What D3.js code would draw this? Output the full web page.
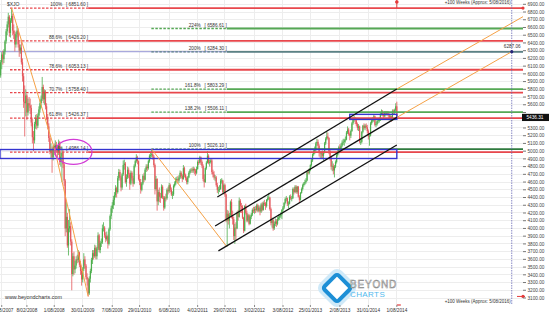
<!DOCTYPE html>
<html>
<head>
<meta charset="utf-8">
<script src="https://cdn.jsdelivr.net/npm/d3@7"></script>
<style>
    body { margin: 0; background: #fff; }
    svg { display: block; font-family: "Liberation Sans", Arial, sans-serif; }
</style>
</head>
<body>
<div id="stage"></div>
<script>
// weekly candles, [open, high, low, close], one array per year
var yearStarts = ['2007-08-24', '2008-01-04', '2009-01-02', '2010-01-01',
                  '2011-01-07', '2012-01-06', '2013-01-04', '2014-01-03'];

var wk2007 = [
    [5980,6180,5950,6150],[6150,6280,6060,6250],[6250,6300,6120,6190],[6190,6320,6140,6290],
    [6290,6440,6250,6420],[6420,6580,6390,6550],[6550,6680,6500,6640],[6640,6790,6600,6740],
    [6740,6760,6480,6530],[6530,6720,6470,6690],[6690,6852,6660,6750],[6750,6780,6500,6560],
    [6560,6640,6450,6520],[6520,6560,6290,6380],[6380,6540,6340,6510],[6510,6620,6470,6560],
    [6560,6590,6340,6380],[6380,6420,6220,6300],[6300,6380,6260,6340]
];
var wk2008 = [
    [6340,6420,6120,6150],[6150,6200,5900,5970],[5970,6010,5560,5640],[5640,5850,5190,5620],
    [5620,5800,5450,5720],[5720,5740,5400,5500],[5500,5680,5460,5620],[5620,5700,5520,5590],
    [5590,5680,5480,5560],[5560,5600,5320,5370],[5370,5420,5100,5180],[5180,5260,5000,5140],
    [5140,5380,5100,5350],[5350,5470,5290,5430],[5430,5480,5280,5330],[5330,5490,5300,5460],
    [5460,5580,5420,5540],[5540,5660,5500,5620],[5620,5720,5560,5680],[5680,5960,5650,5830],
    [5830,5860,5620,5670],[5670,5800,5600,5770],[5770,5790,5540,5580],[5580,5620,5400,5440],
    [5440,5480,5280,5320],[5320,5360,5120,5170],[5170,5200,4960,4990],[4990,5100,4900,5020],
    [5020,5060,4720,4920],[4920,5080,4880,5040],[5040,5100,4950,5000],[5000,5140,4960,5080],
    [5080,5120,4980,5030],[5030,5060,4920,4980],[4980,5150,4950,5110],[5110,5130,4820,4860],
    [4860,4980,4800,4930],[4930,5060,4600,4980],[4980,5020,4780,4830],[4830,4860,4550,4620],
    [4620,4640,3900,4000],[4000,4340,3950,4150],[4150,4200,3750,3780],[3780,4110,3650,4000],
    [4000,4250,3950,4030],[4030,4080,3780,3830],[3830,3860,3200,3410],[3410,3680,3380,3640],
    [3640,3700,3400,3470],[3470,3580,3420,3520],[3520,3640,3480,3600],[3600,3660,3550,3590]
];
var wk2009 = [
    [3590,3720,3560,3690],[3690,3700,3500,3530],[3530,3580,3400,3450],[3450,3480,3260,3340],
    [3340,3500,3300,3480],[3480,3680,3450,3600],[3600,3640,3480,3520],[3520,3540,3340,3370],
    [3370,3420,3260,3340],[3340,3360,3120,3160],[3160,3380,3140,3350],[3350,3480,3300,3450],
    [3450,3620,3420,3590],[3590,3720,3540,3680],[3680,3720,3600,3640],[3640,3790,3620,3750],
    [3750,3780,3600,3640],[3640,3760,3600,3740],[3740,3950,3720,3910],[3910,3930,3690,3720],
    [3720,3840,3680,3810],[3810,3870,3760,3820],[3820,4050,3800,4000],[4000,4080,3960,4010],
    [4010,4030,3880,3910],[3910,3950,3820,3860],[3860,3960,3840,3900],[3900,3920,3740,3800],
    [3800,4010,3780,3990],[3990,4180,3970,4160],[4160,4290,4120,4260],[4260,4340,4200,4300],
    [4300,4420,4250,4370],[4370,4470,4300,4430],[4430,4560,4400,4520],[4520,4540,4400,4470],
    [4470,4680,4450,4650],[4650,4770,4620,4730],[4730,4760,4620,4660],[4660,4680,4480,4530],
    [4530,4720,4500,4700],[4700,4880,4680,4820],[4820,4890,4760,4840],[4840,4860,4580,4600],
    [4600,4700,4540,4660],[4660,4800,4640,4760],[4760,4790,4650,4700],[4700,4720,4500,4580],
    [4580,4750,4560,4720],[4720,4740,4620,4650],[4650,4680,4540,4580],[4580,4830,4570,4810]
];
var wk2010 = [
    [4810,4890,4790,4870],[4870,4960,4850,4920],[4920,4940,4830,4870],[4870,4880,4620,4640],
    [4640,4700,4560,4600],[4600,4640,4450,4500],[4500,4600,4480,4580],[4580,4700,4560,4680],
    [4680,4720,4600,4630],[4630,4780,4620,4760],[4760,4830,4730,4800],[4800,4830,4740,4780],
    [4780,4890,4760,4870],[4870,4960,4850,4940],[4940,4990,4900,4950],[4950,5026,4920,4960],
    [4960,4990,4890,4930],[4930,4950,4790,4820],[4820,4840,4440,4510],[4510,4680,4490,4640],
    [4640,4650,4230,4350],[4350,4500,4300,4470],[4470,4530,4340,4410],[4410,4460,4330,4400],
    [4400,4570,4390,4540],[4540,4560,4380,4400],[4400,4420,4230,4270],[4270,4420,4250,4400],
    [4400,4450,4350,4390],[4390,4520,4370,4500],[4500,4540,4440,4480],[4480,4590,4460,4560],
    [4560,4580,4470,4500],[4500,4530,4420,4440],[4440,4480,4380,4440],[4440,4570,4420,4550],
    [4550,4610,4530,4580],[4580,4660,4560,4640],[4640,4670,4600,4640],[4640,4680,4580,4620],
    [4620,4690,4590,4660],[4660,4750,4640,4720],[4720,4740,4650,4680],[4680,4700,4600,4640],
    [4640,4820,4630,4780],[4780,4800,4660,4690],[4690,4710,4620,4650],[4650,4670,4570,4600],
    [4600,4680,4570,4660],[4660,4740,4650,4720],[4720,4770,4700,4750],[4750,4780,4720,4760],
    [4760,4790,4720,4750]
];
var wk2011 = [
    [4750,4800,4720,4770],[4770,4790,4700,4750],[4750,4770,4680,4720],[4720,4800,4700,4770],
    [4770,4880,4760,4860],[4860,4890,4820,4850],[4850,4940,4840,4920],[4920,4930,4820,4860],
    [4860,4880,4780,4810],[4810,4830,4610,4640],[4640,4700,4530,4600],[4600,4790,4590,4780],
    [4780,4870,4760,4850],[4850,5000,4840,4940],[4940,4960,4830,4850],[4850,4890,4800,4860],
    [4860,4910,4840,4880],[4880,4900,4700,4730],[4730,4760,4660,4700],[4700,4740,4630,4660],
    [4660,4690,4610,4660],[4660,4680,4540,4560],[4560,4590,4460,4500],[4500,4540,4440,4500],
    [4500,4560,4470,4510],[4510,4640,4500,4620],[4620,4650,4580,4620],[4620,4630,4450,4470],
    [4470,4580,4440,4560],[4560,4580,4410,4440],[4440,4450,4080,4100],[4100,4240,3766,4190],
    [4190,4230,4050,4100],[4100,4200,4000,4170],[4170,4360,4150,4340],[4340,4380,4130,4160],
    [4160,4230,4050,4120],[4120,4150,3850,3900],[3900,4060,3800,4010],[4010,4080,3840,4000],
    [4000,4220,3990,4200],[4200,4240,4100,4150],[4150,4400,4140,4360],[4360,4380,4200,4290],
    [4290,4330,4200,4280],[4280,4300,4120,4140],[4140,4150,3940,3970],[3970,4300,3960,4290],
    [4290,4320,4180,4200],[4200,4230,4080,4100],[4100,4190,4080,4170],[4170,4190,4040,4060]
];
var wk2012 = [
    [4060,4170,4050,4150],[4150,4200,4120,4180],[4180,4260,4160,4240],[4240,4280,4200,4230],
    [4230,4280,4190,4250],[4250,4290,4200,4240],[4240,4320,4220,4300],[4300,4320,4210,4230],
    [4230,4300,4210,4270],[4270,4290,4170,4220],[4220,4330,4200,4310],[4310,4340,4220,4240],
    [4240,4350,4230,4330],[4330,4370,4290,4320],[4320,4340,4240,4290],[4290,4380,4270,4370],
    [4370,4420,4350,4390],[4390,4460,4370,4400],[4400,4410,4230,4250],[4250,4270,4040,4070],
    [4070,4140,4010,4110],[4110,4130,3970,4000],[4000,4090,3980,4060],[4060,4130,4030,4090],
    [4090,4120,4020,4060],[4060,4150,4040,4120],[4120,4180,4100,4140],[4140,4180,4110,4160],
    [4160,4210,4140,4180],[4180,4250,4120,4240],[4240,4290,4210,4270],[4270,4340,4250,4330],
    [4330,4400,4310,4380],[4380,4420,4350,4390],[4390,4400,4290,4320],[4320,4350,4260,4320],
    [4320,4430,4310,4410],[4410,4440,4370,4390],[4390,4420,4350,4390],[4390,4530,4380,4510],
    [4510,4530,4440,4470],[4470,4560,4460,4540],[4540,4560,4450,4470],[4470,4550,4450,4540],
    [4540,4550,4400,4410],[4410,4430,4330,4370],[4370,4470,4360,4460],[4460,4530,4450,4510],
    [4510,4580,4490,4560],[4560,4600,4540,4580],[4580,4630,4560,4600],[4600,4650,4580,4620]
];
var wk2013 = [
    [4620,4740,4610,4730],[4730,4760,4700,4720],[4720,4780,4700,4760],[4760,4830,4740,4820],
    [4820,4900,4800,4880],[4880,4970,4860,4960],[4960,5020,4940,5000],[5000,5060,4960,5020],
    [5020,5120,5000,5100],[5100,5160,5070,5120],[5120,5150,5040,5070],[5070,5090,4930,4980],
    [4980,5000,4900,4970],[4970,5000,4900,4970],[4970,5010,4910,4940],[4940,5000,4880,4980],
    [4980,5120,4970,5100],[5100,5180,5080,5160],[5160,5250,5140,5190],[5190,5240,5150,5170],
    [5170,5180,4960,5000],[5000,5020,4880,4930],[4930,4940,4760,4800],[4800,4870,4740,4810],
    [4810,4840,4700,4750],[4750,4820,4660,4800],[4800,4880,4780,4860],[4860,4970,4840,4950],
    [4950,5020,4930,4990],[4990,5070,4970,5050],[5050,5090,4990,5030],[5030,5100,5010,5070],
    [5070,5140,5050,5110],[5110,5160,5080,5120],[5120,5160,5070,5140],[5140,5190,5110,5150],
    [5150,5260,5140,5240],[5240,5320,5220,5280],[5280,5300,5200,5220],[5220,5240,5140,5200],
    [5200,5280,5170,5260],[5260,5380,5250,5360],[5360,5440,5340,5420],[5420,5460,5380,5430],
    [5430,5440,5350,5400],[5400,5410,5320,5350],[5350,5370,5270,5300],[5300,5350,5260,5320],
    [5320,5330,5100,5120],[5120,5160,5080,5120],[5120,5260,5100,5250],[5250,5340,5230,5330]
];
var wk2014 = [
    [5330,5360,5280,5300],[5300,5350,5270,5330],[5330,5360,5290,5310],[5310,5340,5230,5260],
    [5260,5280,5150,5190],[5190,5220,5070,5200],[5200,5380,5190,5360],[5360,5420,5340,5400],
    [5400,5440,5370,5400],[5400,5470,5380,5450],[5450,5460,5320,5340],[5340,5380,5310,5350],
    [5350,5410,5330,5390],[5390,5420,5360,5400],[5400,5440,5370,5400],[5400,5500,5390,5480],
    [5480,5540,5460,5510],[5510,5530,5450,5480],[5480,5500,5420,5450],[5450,5520,5440,5500],
    [5500,5520,5460,5480],[5480,5520,5460,5490],[5490,5520,5450,5470],[5470,5490,5400,5420],
    [5420,5470,5390,5450],[5450,5460,5380,5400],[5400,5540,5390,5520],[5520,5540,5470,5500],
    [5500,5550,5480,5530],[5530,5620,5510,5580],[5580,5640,5420,5436.31]
];

var yTicks = [3100, 3200, 3300, 3400, 3500, 3600, 3700, 3800, 3900, 4000, 4100, 4200, 4300,
              4400, 4500, 4600, 4700, 4800, 4900, 5000, 5100, 5200, 5300, 5400, 5500, 5600,
              5700, 5800, 5900, 6000, 6100, 6200, 6300, 6400, 6500, 6600, 6700, 6800, 6900];
var xTickDates = ['2007-08-31', '2008-02-08', '2008-08-01', '2009-01-30', '2009-08-07',
                  '2010-01-29', '2010-08-06', '2011-02-04', '2011-07-29', '2012-02-03',
                  '2012-08-03', '2013-01-25', '2013-08-02', '2014-01-31', '2014-08-01'];

// retracement of the 2007 high -> 2009 low
var retracePct = ['100%', '88.6%', '78.6%', '70.7%', '61.8%', '50%'];
var retraceVal = [6851.60, 6426.20, 6053.13, 5758.40, 5426.37, 4986.14];
var retraceSpan = ['2007-10-23', '2009-03-06'];

// extension from the 2010 high -> 2011 low
var extPct = ['224%', '200%', '161.8%', '138.2%', '100%'];
var extVal = [6586.61, 6284.30, 5803.29, 5506.11, 5026.10];
var extSpan = ['2010-04-14', '2011-08-09'];

// channel lines [date, value] pairs
var channelUpper = [['2011-06-10', 4407], ['2014-08-01', 5804]];
var channelMiddle = [['2011-05-27', 4032], ['2014-08-01', 5436.31]];
var channelLower = [['2011-06-17', 3709], ['2014-08-01', 5080]];
var projUpper = [['2014-08-01', 5804], ['2016-10-16', 6740]];
var projLower = [['2014-08-01', 5436.31], ['2016-08-05', 6287.06]];
var swingDown1 = [['2007-11-02', 6851.6], ['2008-08-08', 4990], ['2009-03-06', 3120.4]];
var swingDown2 = [['2010-04-16', 5026.1], ['2011-08-09', 3765.9]];

var zoneBig = [['2007-08-20', 5021], ['2014-08-01', 4905]];
var zoneSmall = [['2013-10-04', 5476], ['2014-08-01', 5411]];

var projDate = '2016-08-05';
var projValue = 6287.06;
var lastPrice = 5436.31;
var lastDate = '2014-08-01';
var fibHigh = 6851.6, fibLow = 3120.4;

(function(d3) {
    'use strict';

    var width = 550,
        height = 318,
        plotRight = 523,
        plotBottom = 305,
        parse = d3.timeParse('%Y-%m-%d'),
        fmtTick = d3.timeFormat('%-d/%m/%Y'),
        small = '4.7px',
        upColor = '#4cae4c',
        downColor = '#e4575b';

    var svg = d3.select('#stage').append('svg')
        .attr('width', width)
        .attr('height', height);

    var x = d3.scaleTime()
        .domain([parse('2007-08-20'), parse('2016-10-16')])
        .range([0, plotRight]);

    var y = d3.scaleLinear()
        .domain([3100, 6900])
        .range([298, 4.3]);

    var candles = [];
    [wk2007, wk2008, wk2009, wk2010, wk2011, wk2012, wk2013, wk2014].forEach(function(rows, i) {
        var start = parse(yearStarts[i]);
        rows.forEach(function(r, j) {
            candles.push({ date: d3.timeDay.offset(start, 7 * j), o: r[0], h: r[1], l: r[2], c: r[3] });
        });
    });

    var line = d3.line()
        .x(function(d) { return x(parse(d[0])); })
        .y(function(d) { return y(d[1]); });

    // grid
    var grid = svg.append('g').attr('class', 'grid')
        .style('stroke', '#ededed')
        .style('shape-rendering', 'crispEdges');

    grid.selectAll('.hgrid')
        .data(yTicks)
        .enter()
        .append('line')
        .attr('x1', 0).attr('x2', plotRight)
        .attr('y1', function(d) { return y(d); })
        .attr('y2', function(d) { return y(d); });

    grid.selectAll('.vgrid')
        .data(xTickDates)
        .enter()
        .append('line')
        .attr('x1', function(d) { return x(parse(d)); })
        .attr('x2', function(d) { return x(parse(d)); })
        .attr('y1', 0).attr('y2', plotBottom);

    // lavender horizontal at the projected value
    svg.append('line')
        .attr('x1', 0).attr('x2', plotRight)
        .attr('y1', y(projValue)).attr('y2', y(projValue))
        .style('stroke', '#a9a9dc')
        .style('stroke-width', 1.2);

    // logo sits behind the marks
    var logo = svg.append('g').attr('transform', 'translate(337,288)');
    logo.append('rect')
        .attr('x', -12.5).attr('y', -12.5).attr('width', 25).attr('height', 25)
        .attr('rx', 4)
        .attr('transform', 'rotate(45)')
        .style('fill', 'none')
        .style('stroke', '#cfe9f8')
        .style('stroke-width', 6);
    logo.append('rect')
        .attr('x', -10).attr('y', -10).attr('width', 20).attr('height', 20)
        .attr('rx', 2.5)
        .attr('transform', 'rotate(45)')
        .style('fill', '#fff')
        .style('stroke', '#1d8fd6')
        .style('stroke-width', 4);
    logo.append('text')
        .attr('x', 13).attr('y', 0)
        .style('font-size', '10px')
        .style('letter-spacing', '0.8px')
        .style('fill', '#fff')
        .style('stroke', '#7d7d7d')
        .style('stroke-width', 0.5)
        .text('BEYOND');
    logo.append('text')
        .attr('x', 13).attr('y', 8.5)
        .style('font-size', '8px')
        .style('letter-spacing', '0.4px')
        .style('fill', '#52b9ee')
        .text('CHARTS');

    // candles
    var candle = svg.append('g').attr('class', 'candles')
        .selectAll('.candle')
        .data(candles)
        .enter()
        .append('g')
        .attr('class', 'candle')
        .style('fill', function(d) { return d.c >= d.o ? upColor : downColor; })
        .style('stroke', function(d) { return d.c >= d.o ? upColor : downColor; });

    candle.append('line')
        .attr('x1', function(d) { return x(d.date); })
        .attr('x2', function(d) { return x(d.date); })
        .attr('y1', function(d) { return y(d.h); })
        .attr('y2', function(d) { return y(d.l); })
        .style('stroke-width', 0.8);

    candle.append('rect')
        .attr('x', function(d) { return x(d.date) - 0.6; })
        .attr('width', 1.2)
        .attr('y', function(d) { return y(Math.max(d.o, d.c)); })
        .attr('height', function(d) { return Math.max(0.8, Math.abs(y(d.o) - y(d.c))); })
        .style('stroke', 'none');

    // fib levels
    function levels(cls, vals, pcts, span, color) {
        var g = svg.append('g').attr('class', cls),
            x0 = x(parse(span[0])),
            x1 = x(parse(span[1]));

        g.selectAll('.dash')
            .data(vals)
            .enter()
            .append('line')
            .attr('x1', x0).attr('x2', x1)
            .attr('y1', function(d) { return y(d); })
            .attr('y2', function(d) { return y(d); })
            .style('stroke', function(d, i) { return color(i); })
            .style('stroke-width', 1.3)
            .style('stroke-dasharray', '2.5,1.5');

        g.selectAll('.solid')
            .data(vals)
            .enter()
            .append('line')
            .attr('x1', x1).attr('x2', plotRight)
            .attr('y1', function(d) { return y(d); })
            .attr('y2', function(d) { return y(d); })
            .style('stroke', function(d, i) { return color(i); })
            .style('stroke-width', 1.8);

        g.selectAll('.pct')
            .data(vals)
            .enter()
            .append('text')
            .attr('x', x1 - 26)
            .attr('y', function(d) { return y(d) - 2; })
            .attr('text-anchor', 'end')
            .style('font-size', small)
            .style('fill', '#333')
            .text(function(d, i) { return pcts[i]; });

        g.selectAll('.val')
            .data(vals)
            .enter()
            .append('text')
            .attr('x', x1)
            .attr('y', function(d) { return y(d) - 2; })
            .attr('text-anchor', 'end')
            .style('font-size', small)
            .style('fill', '#333')
            .text(function(d) { return '[ ' + d3.format('.2f')(d) + ' ]'; });
    }

    levels('retrace', retraceVal, retracePct, retraceSpan, function() { return '#e8474c'; });
    levels('extension', extVal, extPct, extSpan, function(i) {
        return extPct[i] === '200%' ? '#5c8284' : (extPct[i] === '100%' ? '#2f7a3e' : '#55a855');
    });

    // zones
    svg.selectAll('.zone')
        .data([zoneBig, zoneSmall])
        .enter()
        .append('rect')
        .attr('class', 'zone')
        .attr('x', function(d) { return x(parse(d[0][0])); })
        .attr('y', function(d) { return y(d[0][1]); })
        .attr('width', function(d) { return x(parse(d[1][0])) - x(parse(d[0][0])); })
        .attr('height', function(d) { return y(d[1][1]) - y(d[0][1]); })
        .style('fill', 'none')
        .style('stroke', '#3434d0')
        .style('stroke-width', 1.4);

    // swing lines and projections
    svg.selectAll('.swing')
        .data([swingDown1, swingDown2, projUpper, projLower])
        .enter()
        .append('path')
        .attr('class', 'swing')
        .attr('d', line)
        .style('fill', 'none')
        .style('stroke', '#f5a146')
        .style('stroke-width', 1);

    svg.selectAll('.channel')
        .data([channelUpper, channelMiddle, channelLower])
        .enter()
        .append('path')
        .attr('class', 'channel')
        .attr('d', line)
        .style('fill', 'none')
        .style('stroke', '#111')
        .style('stroke-width', 1.3);

    // ellipse round the 50% label
    svg.append('ellipse')
        .attr('cx', x(parse('2008-12-02')))
        .attr('cy', y(4990))
        .attr('rx', 18.5)
        .attr('ry', 12.5)
        .style('fill', 'none')
        .style('stroke', '#d23bd6')
        .style('stroke-width', 1.2);

    // +100 weeks marker
    var px = x(parse(projDate));
    svg.append('line')
        .attr('x1', px).attr('x2', px)
        .attr('y1', 0).attr('y2', plotBottom)
        .style('stroke', '#6b6bb8')
        .style('stroke-width', 0.8)
        .style('stroke-dasharray', '1.5,1');

    svg.selectAll('.weeks')
        .data([3.6, 302.5])
        .enter()
        .append('text')
        .attr('class', 'weeks')
        .attr('x', px - 1)
        .attr('y', function(d) { return d; })
        .attr('text-anchor', 'end')
        .style('font-size', '4.5px')
        .style('fill', '#333')
        .text('+100 Weeks (Approx: 5/08/2016)');

    svg.append('circle')
        .attr('cx', px).attr('cy', y(projValue)).attr('r', 1.6)
        .style('fill', '#25257a');

    svg.append('text')
        .attr('x', px + 9)
        .attr('y', y(projValue) - 3.5)
        .attr('text-anchor', 'end')
        .style('font-size', small)
        .style('fill', '#333')
        .text(d3.format('.2f')(projValue));

    // red anchor markers
    var lx = x(parse(lastDate)),
        red = '#e53b3b';
    svg.append('line').attr('x1', lx).attr('x2', lx).attr('y1', 0).attr('y2', 8)
        .style('stroke', red).style('stroke-width', 1);
    svg.append('circle').attr('cx', lx).attr('cy', 2).attr('r', 1.8).style('fill', red);
    svg.append('line').attr('x1', lx).attr('x2', lx + 4).attr('y1', plotBottom).attr('y2', plotBottom)
        .style('stroke', red).style('stroke-width', 1.2);
    svg.append('circle').attr('cx', plotRight).attr('cy', y(fibHigh)).attr('r', 1.6).style('fill', red);
    svg.append('line').attr('x1', plotRight - 6).attr('x2', plotRight + 2)
        .attr('y1', y(fibLow)).attr('y2', y(fibLow))
        .style('stroke', red).style('stroke-width', 1);
    svg.append('circle').attr('cx', plotRight).attr('cy', y(fibLow)).attr('r', 1.6).style('fill', red);

    // y axis on the right, the price box hides the tick under it
    var shown = yTicks.filter(function(d) { return Math.abs(y(d) - y(lastPrice)) > 5; });
    var yAxis = svg.append('g').attr('class', 'y-axis');
    yAxis.selectAll('line')
        .data(yTicks)
        .enter()
        .append('line')
        .attr('x1', plotRight).attr('x2', plotRight + 3)
        .attr('y1', function(d) { return y(d); })
        .attr('y2', function(d) { return y(d); })
        .style('stroke', '#777');
    yAxis.selectAll('text')
        .data(shown)
        .enter()
        .append('text')
        .attr('x', plotRight + 4.5)
        .attr('y', function(d) { return y(d) + 1.7; })
        .style('font-size', small)
        .style('fill', '#444')
        .text(function(d) { return d3.format('.2f')(d); });

    svg.append('rect')
        .attr('x', plotRight - 1).attr('y', y(lastPrice) - 3.6)
        .attr('width', 27).attr('height', 7.2)
        .style('fill', '#111');
    svg.append('text')
        .attr('x', plotRight + 3.5)
        .attr('y', y(lastPrice) + 1.7)
        .style('font-size', small)
        .style('fill', '#fff')
        .text(d3.format('.2f')(lastPrice));

    // x axis
    var xAxis = svg.append('g').attr('class', 'x-axis');
    xAxis.selectAll('line')
        .data(xTickDates)
        .enter()
        .append('line')
        .attr('x1', function(d) { return x(parse(d)); })
        .attr('x2', function(d) { return x(parse(d)); })
        .attr('y1', plotBottom).attr('y2', plotBottom + 2)
        .style('stroke', '#888');
    xAxis.selectAll('text')
        .data(xTickDates)
        .enter()
        .append('text')
        .attr('x', function(d) { return x(parse(d)); })
        .attr('y', 311.5)
        .attr('text-anchor', 'middle')
        .style('font-size', small)
        .style('fill', '#333')
        .text(function(d) { return fmtTick(parse(d)); });

    // symbol and site
    svg.append('text')
        .attr('x', 7).attr('y', 6)
        .style('font-size', '5px')
        .style('fill', '#333')
        .text('$XJO');
    svg.append('text')
        .attr('x', 5).attr('y', 299)
        .style('font-size', '5.4px')
        .style('fill', '#333')
        .text('www.beyondcharts.com');

})(window.d3);
</script>
</body>
</html>
